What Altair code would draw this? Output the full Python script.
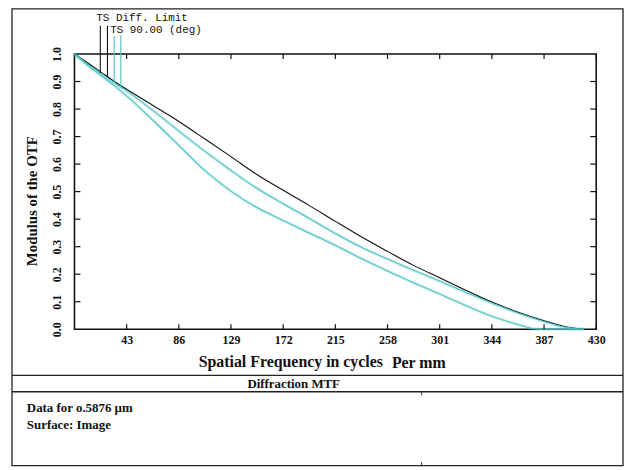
import altair as alt
import pandas as pd

# ---- data ----
freq_diff = [0, 10, 21, 32, 43, 64, 86, 107, 129, 150, 172, 193, 215, 236, 258, 279, 301, 322, 344, 365, 387, 404, 418]
mtf_diff = [1.0, 0.97, 0.937, 0.903, 0.872, 0.815, 0.755, 0.693, 0.627, 0.563, 0.505, 0.451, 0.392, 0.337, 0.283, 0.233, 0.187, 0.143, 0.099, 0.063, 0.031, 0.01, 0.0]

freq_t = [0, 10, 21, 32, 43, 64, 86, 107, 129, 150, 172, 193, 215, 236, 258, 279, 301, 322, 344, 365, 387, 404, 419]
mtf_t = [1.0, 0.966, 0.932, 0.898, 0.866, 0.797, 0.72, 0.648, 0.577, 0.513, 0.456, 0.404, 0.348, 0.299, 0.255, 0.215, 0.175, 0.135, 0.095, 0.06, 0.028, 0.008, 0.0]

freq_s = [0, 10, 21, 32, 43, 64, 86, 107, 129, 150, 172, 193, 215, 236, 258, 279, 301, 322, 344, 365, 383, 400, 420]
mtf_s = [1.0, 0.962, 0.925, 0.888, 0.848, 0.762, 0.668, 0.578, 0.502, 0.443, 0.395, 0.351, 0.305, 0.258, 0.212, 0.17, 0.128, 0.087, 0.047, 0.018, 0.0, 0.0, 0.0]

x_ticks = [43, 86, 129, 172, 215, 258, 301, 344, 387, 430]
y_ticks = [0.0, 0.1, 0.2, 0.3, 0.4, 0.5, 0.6, 0.7, 0.8, 0.9, 1.0]

legend_x = [21.3, 27.2, 32.7, 38.2]
legend_top = [1.103, 1.103, 1.067, 1.067]
legend_bottom = [0.931, 0.915, 0.897, 0.883]
legend_series = ["Diff. Limit", "Diff. Limit", "90.00 T", "90.00 S"]

series_names = ["Diff. Limit", "90.00 T", "90.00 S"]
series_colors = ["#111111", "#4cc2c2", "#4cc2c2"]

# ---- tables ----
rows = []
for f, m in zip(freq_diff, mtf_diff):
    rows.append({"freq": f, "mtf": m, "series": "Diff. Limit"})
for f, m in zip(freq_t, mtf_t):
    rows.append({"freq": f, "mtf": m, "series": "90.00 T"})
for f, m in zip(freq_s, mtf_s):
    rows.append({"freq": f, "mtf": m, "series": "90.00 S"})
curves = pd.DataFrame(rows)
cyan_curves = curves[curves["series"] != "Diff. Limit"]

legend_df = pd.DataFrame({"freq": legend_x, "mtf": legend_top, "mtf2": legend_bottom, "series": legend_series})
xt_df = pd.DataFrame({"freq": x_ticks})
yt_df = pd.DataFrame({"mtf": y_ticks[1:-1]})
one = pd.DataFrame({"k": [0]})

W, H = 526, 277.5
SERIF = "Liberation Serif"
MONO = "Liberation Mono"

xs = alt.Scale(domain=[0, 430], nice=False, zero=False)
ys = alt.Scale(domain=[0, 1], nice=False)

x_enc = alt.X("freq:Q", scale=xs, axis=alt.Axis(values=x_ticks, format="d", title=None, ticks=False, tickSize=0,
                                                domain=False, grid=False, labelFont=SERIF, labelFontWeight="bold",
                                                labelFontSize=12, labelPadding=5, labelColor="#111",
                                                labelFlush=False, labelOverlap=False))
y_enc = alt.Y("mtf:Q", scale=ys, axis=alt.Axis(values=y_ticks, format=".1f", title="Modulus of the OTF",
                                               ticks=False, tickSize=0, domain=False, grid=False,
                                               labelFont=SERIF, labelFontWeight="bold", labelFontSize=12,
                                               labelAngle=270, labelAlign="center", labelBaseline="middle",
                                               labelPadding=18, labelColor="#111", labelFlush=False,
                                               labelOverlap=False,
                                               titleFont=SERIF, titleFontWeight="bold", titleFontSize=15,
                                               titleAngle=270, titleX=-43, titleY=148, titleAlign="center",
                                               titleBaseline="middle", titleColor="#111"))
color_enc = alt.Color("series:N", scale=alt.Scale(domain=series_names, range=series_colors), legend=None)

glow = alt.Chart(cyan_curves).mark_line(strokeWidth=3.5, opacity=0.22, interpolate="monotone").encode(
    x=x_enc, y=y_enc, color=color_enc, detail="series:N")
lines = alt.Chart(curves).mark_line(strokeWidth=1.1, interpolate="monotone").encode(
    x=x_enc, y=y_enc, color=color_enc, detail="series:N")

leg_rules = alt.Chart(legend_df).mark_rule(strokeWidth=1.1).encode(
    x=x_enc, y=y_enc, y2="mtf2:Q", color=color_enc)

tick_b = alt.Chart(xt_df).mark_rule(color="#111", strokeWidth=1.2).encode(
    x=x_enc, y=alt.value(H), y2=alt.value(H - 5))
tick_t = alt.Chart(xt_df).mark_rule(color="#111", strokeWidth=1.2).encode(
    x=x_enc, y=alt.value(0), y2=alt.value(5))
tick_l = alt.Chart(yt_df).mark_rule(color="#111", strokeWidth=1.2).encode(
    y=y_enc, x=alt.value(0), x2=alt.value(6))
tick_r = alt.Chart(yt_df).mark_rule(color="#111", strokeWidth=1.2).encode(
    y=y_enc, x=alt.value(W), x2=alt.value(W - 6))

# outer frame and separators (page coords minus plot origin 75, 52.5)
frame = alt.Chart(one).mark_rect(fill=None, stroke="#222", strokeWidth=1.3).encode(
    x=alt.value(-63), x2=alt.value(553), y=alt.value(-45.5), y2=alt.value(415))
sep1 = alt.Chart(one).mark_rule(color="#222", strokeWidth=1.3).encode(
    x=alt.value(-63), x2=alt.value(553), y=alt.value(324))
sep2 = alt.Chart(one).mark_rule(color="#222", strokeWidth=1.3).encode(
    x=alt.value(-63), x2=alt.value(553), y=alt.value(340.5))
mark1 = alt.Chart(one).mark_rule(color="#333", strokeWidth=1).encode(
    x=alt.value(350), y=alt.value(340.5), y2=alt.value(344))
mark2 = alt.Chart(one).mark_rule(color="#333", strokeWidth=1).encode(
    x=alt.value(350), y=alt.value(415), y2=alt.value(411.5))

def txt(s, x, y, size, font=SERIF, weight="bold", align="left"):
    return alt.Chart(one).mark_text(text=s, font=font, fontSize=size, fontWeight=weight, align=align,
                                    baseline="middle", color="#111").encode(x=alt.value(x), y=alt.value(y))

texts = [
    txt("TS Diff. Limit", 22, -36.5, 11, font=MONO, weight="normal"),
    txt("TS 90.00 (deg)", 36, -24.5, 11, font=MONO, weight="normal"),
    txt("Spatial Frequency in cycles", 311, 310.5, 16, align="right"),
    txt("Per mm", 320, 312, 16),
    txt("Diffraction MTF", 221, 332.5, 13, align="center"),
    txt("Data for o.5876 \u00b5m", -48, 357, 13),
    txt("Surface: Image", -48, 374.5, 13),
]

chart = alt.layer(frame, sep1, sep2, mark1, mark2, glow, lines, leg_rules, tick_b, tick_t, tick_l, tick_r, *texts).properties(
    width=W, height=H,
    autosize=alt.AutoSizeParams(type="none"),
    padding={"left": 67, "top": 44.5, "right": 28, "bottom": 139},
    background="white",
).configure_view(stroke="#111", strokeWidth=1.6)

chart.save("out.html", embed_options={"renderer": "svg", "actions": False})
